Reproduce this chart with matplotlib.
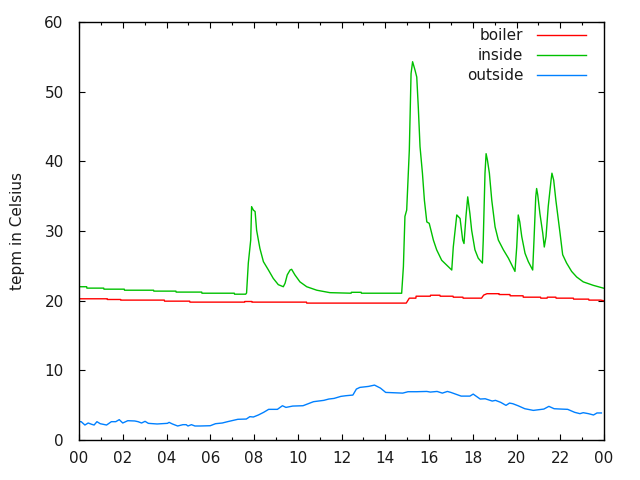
import matplotlib
matplotlib.use("Agg")
import matplotlib.pyplot as plt
from matplotlib.ticker import MultipleLocator, FuncFormatter

# hours since midnight
boiler_h = [0.0, 1.29, 1.3, 1.9, 1.91, 3.9, 3.91, 5.06, 5.07, 7.57, 7.58, 7.9, 7.91, 10.4, 10.41, 14.96,
            15.1, 15.4, 15.41, 16.06, 16.07, 16.5, 16.51, 17.1, 17.11, 17.55, 17.56, 18.4, 18.5, 18.65,
            19.2, 19.21, 19.7, 19.71, 20.3, 20.31, 21.1, 21.11, 21.4, 21.41, 21.8, 21.81, 22.6, 22.61,
            23.3, 23.31, 23.85, 24.0]
boiler_v = [20.27, 20.27, 20.17, 20.17, 20.08, 20.08, 19.93, 19.93, 19.79, 19.79, 19.88, 19.88, 19.79, 19.79, 19.65, 19.65,
            20.36, 20.36, 20.64, 20.64, 20.78, 20.78, 20.64, 20.64, 20.5, 20.5, 20.36, 20.36, 20.8, 21.0,
            21.0, 20.88, 20.88, 20.7, 20.7, 20.5, 20.5, 20.36, 20.36, 20.5, 20.5, 20.36, 20.36, 20.22,
            20.22, 20.08, 20.08, 19.98]

inside_h = [0.0, 0.35, 0.36, 1.13, 1.14, 2.07, 2.08, 3.41, 3.42, 4.43, 4.44, 5.61, 5.62, 7.1, 7.11, 7.62,
            7.66, 7.74, 7.85, 7.89, 7.97, 8.05, 8.12, 8.2, 8.27, 8.43, 8.66, 8.88, 9.11, 9.34, 9.42, 9.52,
            9.65, 9.72, 9.87, 10.1, 10.41, 10.87, 11.47, 12.44, 12.45, 12.9, 12.91, 14.68,
            14.75, 14.83, 14.9, 14.98, 15.1, 15.18, 15.25, 15.36, 15.44, 15.51, 15.59, 15.7, 15.79, 15.9,
            16.01, 16.09, 16.2, 16.35, 16.58, 16.81, 17.04, 17.11, 17.27, 17.42, 17.54, 17.6, 17.69, 17.77,
            17.87, 17.95, 18.1, 18.25, 18.44, 18.48, 18.56, 18.61, 18.67, 18.76, 18.87, 19.02, 19.17, 19.4,
            19.63, 19.93, 20.01, 20.08, 20.15, 20.24, 20.39, 20.54, 20.74, 20.8, 20.88, 20.92, 20.97, 21.07,
            21.2, 21.27, 21.35, 21.45, 21.58, 21.62, 21.7, 21.8, 21.99, 22.11, 22.29, 22.52, 22.75, 23.05,
            23.51, 23.97]
inside_v = [22.0, 22.0, 21.8, 21.8, 21.65, 21.65, 21.5, 21.5, 21.37, 21.37, 21.23, 21.23, 21.07, 21.07, 20.93, 20.93,
            21.1, 25.4, 28.7, 33.5, 33.0, 32.8, 30.1, 28.7, 27.5, 25.6, 24.4, 23.2, 22.3, 22.0, 22.5, 23.7,
            24.4, 24.5, 23.7, 22.7, 22.0, 21.5, 21.15, 21.07, 21.2, 21.2, 21.07, 21.07,
            21.06, 24.9, 32.1, 33.0, 41.6, 52.6, 54.3, 53.1, 52.1, 47.8, 42.1, 38.3, 34.4, 31.3,
            31.1, 30.1, 28.7, 27.3, 25.8, 25.1, 24.4, 27.7, 32.3, 31.8, 28.7, 28.2, 32.1, 34.9,
            32.5, 30.1, 27.3, 26.1, 25.4, 28.7, 38.3, 41.1, 40.2, 38.3, 34.4, 30.6, 28.7, 27.3,
            26.1, 24.2, 27.7, 32.3, 31.3, 29.2, 26.8, 25.6, 24.4, 28.7, 34.9, 36.1, 35.2, 32.5,
            29.7, 27.7, 29.2, 33.5, 37.3, 38.3, 37.3, 34.4, 29.7, 26.6, 25.4, 24.2, 23.4, 22.7,
            22.2, 21.8]

outside_h = [0.0, 0.1, 0.27, 0.42, 0.58, 0.69, 0.82, 0.97, 1.26, 1.48, 1.68, 1.84, 2.0, 2.23, 2.55, 2.7,
             2.86, 3.02, 3.17, 3.57, 4.04, 4.12, 4.27, 4.51, 4.75, 4.9, 4.98, 5.14, 5.3, 5.53, 6.0, 6.24,
             6.55, 6.79, 7.26, 7.65, 7.81, 7.97, 8.2, 8.44, 8.67, 9.07, 9.3, 9.46, 9.77, 10.24, 10.48,
             10.72, 11.19, 11.42, 11.66, 11.97, 12.21, 12.52, 12.68, 12.84, 13.23, 13.51, 13.78, 14.02,
             14.8, 15.04, 15.43, 15.9, 16.06, 16.37, 16.61, 16.84, 17.0, 17.47, 17.87, 18.02, 18.34,
             18.57, 18.89, 19.04, 19.28, 19.52, 19.68, 19.83, 20.07, 20.38, 20.77, 21.25, 21.48, 21.72,
             22.03, 22.34, 22.66, 22.9, 23.05, 23.29, 23.52, 23.68, 23.88]
outside_v = [2.63, 2.63, 2.15, 2.44, 2.25, 2.15, 2.63, 2.34, 2.15, 2.63, 2.63, 2.92, 2.44, 2.77, 2.73, 2.63,
             2.44, 2.68, 2.39, 2.3, 2.39, 2.53, 2.3, 2.01, 2.2, 2.2, 2.01, 2.2, 2.01, 2.01, 2.05, 2.34,
             2.44, 2.63, 2.97, 3.01, 3.35, 3.3, 3.59, 3.97, 4.4, 4.4, 4.92, 4.68, 4.87, 4.92, 5.21,
             5.5, 5.69, 5.88, 5.97, 6.26, 6.36, 6.45, 7.31, 7.55, 7.69, 7.88, 7.45, 6.83,
             6.73, 6.93, 6.93, 6.97, 6.88, 6.97, 6.73, 6.97, 6.83, 6.3, 6.3, 6.59, 5.88,
             5.92, 5.59, 5.69, 5.4, 4.97, 5.3, 5.21, 4.92, 4.49, 4.25, 4.44, 4.83, 4.49,
             4.44, 4.4, 3.97, 3.78, 3.92, 3.78, 3.59, 3.88, 3.88]

series_names = ["boiler", "inside", "outside"]
series_colors = ["#ff0000", "#00c000", "#0080ff"]
x_tick_hours = list(range(0, 25, 2))
y_ticks = [0, 10, 20, 30, 40, 50, 60]

plt.rcParams['font.family'] = ['DejaVu Sans']
text_color = '#1a1a1a'
fig = plt.figure(figsize=(6.4, 4.8), dpi=100)
ax = fig.add_axes([79/640, 40/480, 525/640, 418/480])

ax.plot(boiler_h, boiler_v, color=series_colors[0], lw=1.0, label=series_names[0])
ax.plot(inside_h, inside_v, color=series_colors[1], lw=1.0, label=series_names[1])
ax.plot(outside_h, outside_v, color=series_colors[2], lw=1.0, label=series_names[2])

ax.set_xlim(0, 24)
ax.set_ylim(0, 60)
ax.set_xticks(x_tick_hours)
ax.xaxis.set_major_formatter(FuncFormatter(lambda v, p: "%02d" % (int(round(v)) % 24)))
ax.xaxis.set_minor_locator(MultipleLocator(1))
ax.set_yticks(y_ticks)
ax.tick_params(axis='both', which='major', direction='in', length=4, width=0.8,
               top=True, right=True, labelsize=11, color='black', labelcolor=text_color)
ax.tick_params(axis='x', which='major', pad=8)
ax.tick_params(axis='y', which='major', pad=11)
ax.tick_params(axis='both', which='minor', direction='in', length=2, width=0.8, top=True, right=True)
for s in ax.spines.values():
    s.set_linewidth(1.0)
ax.set_ylabel("tepm in Celsius", fontsize=11, labelpad=14, color=text_color)

leg = ax.legend(loc='upper right', bbox_to_anchor=(1 - 12/525, 1.0), frameon=False,
                markerfirst=False, fontsize=11, handlelength=3.2, handletextpad=0.9,
                labelspacing=0.32, borderaxespad=0.2, borderpad=0.2)
for t in leg.get_texts():
    t.set_color(text_color)

fig.savefig("out.png", dpi=100)
